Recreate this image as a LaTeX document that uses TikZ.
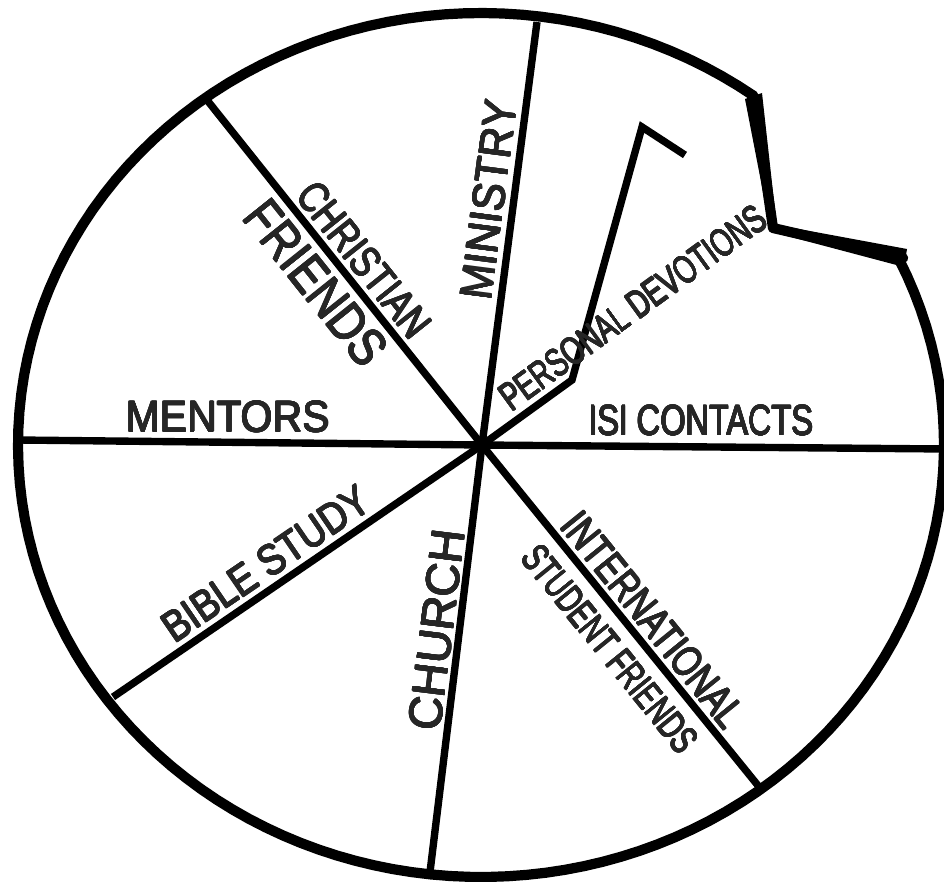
\documentclass[tikz,border=0pt]{standalone}
\usepackage{fontspec}
\setmainfont{Liberation Sans}
\usepackage{contour}
\contourlength{0.3pt}
\contournumber{12}
\newcommand{\lbltext}[1]{\contour{black!85}{#1}}

\begin{document}
\begin{tikzpicture}[x=0.02cm, y=-0.02cm,
    rim/.style = {line width=5.8pt, line join=round},
    spoke/.style = {line width=4.2pt},
    lbl/.style = {text=black!85, inner sep=0pt, outer sep=0pt,
                font=\fontsize{#1}{#1}\selectfont},
    lbl/.default = 24pt  % text size of the labels
                    ]
        \useasboundingbox (0,0) rectangle (944,882);
        \coordinate (c) at (482,445);
        % ends of the spokes on the rim
        \foreach \x/\y/\v in {207/100/chr, 537/22/min, 18/440/men, 946/449/isi, 113/697/bib, 430/872/chu, 760/788/int}
            \coordinate (\v) at (\x,\y);
        % bent line of the devotions slice
        \foreach \x/\y/\v in {572/380/pda, 642/127/pdb, 685/155/pdc}
            \coordinate (\v) at (\x,\y);
        % notch in the rim
        \coordinate (nta) at (754,96);
        \coordinate (ntb) at (773,228);
        \coordinate (ntc) at (903,258);
        \draw[rim] (ntc) -- plot[domain=-25.4:306.1, samples=140, variable=\t] ({481+463*cos(\t)}, {445+432*sin(\t)}) -- (ntb) -- cycle;
        \fill (745,99) -- (762,93) -- (777,228) -- (770,228) -- cycle;
        \fill (772,224) -- (907,249) -- (904,267) -- (772,232) -- cycle;
        \foreach \v in {chr, min, men, isi, bib, chu, int}
            \draw[spoke] (c) -- (\v);
        \draw[spoke, line join=miter] (c) -- (pda) -- (pdb) -- (pdc);
        % labels
        \node[lbl=25pt, xscale=0.93] (mentors) at (228,417) {\lbltext{MENTORS}};
        \node[lbl=24.3pt, xscale=0.76] (isi) at (701,421) {\lbltext{ISI CONTACTS}};
        \node[lbl=25.8pt, rotate=82.6, xscale=0.93] (ministry) at (489,200) {\lbltext{MINISTRY}};
        \node[lbl=24.5pt, rotate=-51.4, xscale=0.8] (christian) at (364,260) {\lbltext{CHRISTIAN}};
        \node[lbl=30pt, rotate=-51.4, xscale=0.84] (friends) at (316,283) {\lbltext{FRIENDS}};
        \node[lbl=22.3pt, rotate=36, xscale=0.7] (devotions) at (633,308) {\lbltext{PERSONAL DEVOTIONS}};
        \node[lbl=24.5pt, rotate=34.3, xscale=0.86] (bible) at (266,564) {\lbltext{BIBLE STUDY}};
        \node[lbl=26.5pt, rotate=83] (church) at (437,630) {\lbltext{CHURCH}};
        \node[lbl=24.5pt, rotate=-51, xscale=0.77] (international) at (653,620) {\lbltext{INTERNATIONAL}};
        \node[lbl=22.3pt, rotate=-51, xscale=0.69] (student) at (610,649) {\lbltext{STUDENT FRIENDS}};
    \end{tikzpicture}
\end{document}
